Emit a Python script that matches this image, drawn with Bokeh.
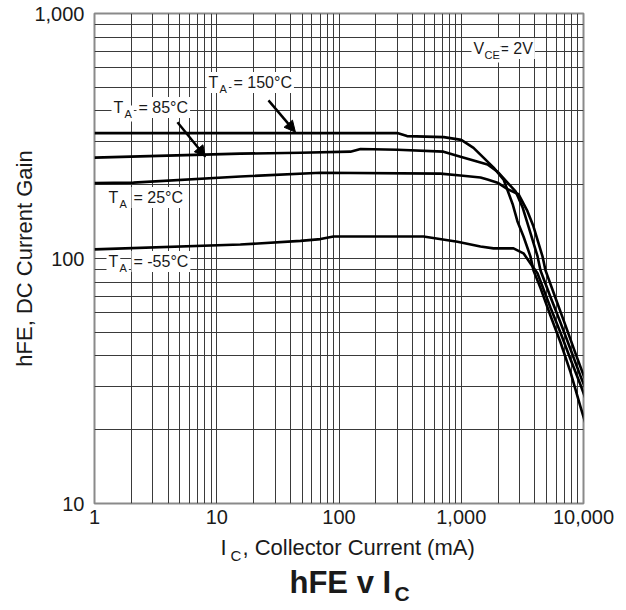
from bokeh.plotting import figure
from bokeh.layouts import column
from bokeh.models import FixedTicker, Label, Arrow, NormalHead
from bokeh.embed import file_html
from bokeh.resources import INLINE

# ---- data ----
ic_150 = [1, 300, 360, 720, 1000, 1260, 1520, 1840, 2220, 2630, 2880, 3230, 3680, 3900, 4450, 5370, 6490, 7830, 9450, 11000]
hfe_150 = [325, 325, 316, 313, 305, 283, 258, 235, 210, 167, 142, 123, 102, 89.4, 75.7, 58.4, 45.4, 34.4, 24.8, 19.3]

ic_85 = [1, 15.6, 48.4, 124, 150, 301, 716, 986, 1640, 1980, 2390, 2780, 3170, 3550, 4210, 4450, 5370, 6490, 7830, 9450, 11000]
hfe_85 = [258, 268, 270, 273, 280, 278, 273, 260, 242, 226, 204, 188, 162, 135, 102, 89.4, 69.6, 54.7, 42.6, 33.1, 27.3]

ic_25 = [1, 2.08, 15.6, 70.6, 676, 986, 1436, 1640, 1980, 2390, 2940, 3480, 3900, 4620, 4890, 5900, 7130, 8600, 11000]
hfe_25 = [203, 204, 216, 224, 222, 218, 214, 210, 204, 192, 183, 156, 135, 102, 89.4, 69.0, 53.2, 41.0, 29.4]

ic_m55 = [1, 15.6, 48.4, 70.6, 90.2, 491, 931, 1436, 1836, 2675, 3229, 3683, 4205, 5372, 6486, 7829, 9446, 10990]
hfe_m55 = [109, 114, 118, 120, 123, 123, 117, 112, 110, 110, 105, 95.5, 87.0, 62.9, 49.8, 38.8, 30.5, 24.8]

x_ticks = [1, 10, 100, 1000, 10000]
x_tick_labels = ["1", "10", "100", "1,000", "10,000"]
y_ticks = [10, 100, 1000]
y_tick_labels = ["10", "100", "1,000"]

FONT = "Liberation Sans"
INK = "#1a1a1a"
GRID = "#3a3a3a"

MAIN_H = 535
FRAME_L, FRAME_R = 94, 583
p = figure(width=626, height=MAIN_H, x_axis_type="log", y_axis_type="log",
           x_range=(1, 10000), y_range=(10, 1000),
           output_backend="svg", toolbar_location=None, title=None,
           min_border_left=FRAME_L, min_border_right=626 - FRAME_R, min_border_top=13,
           min_border_bottom=MAIN_H - 503)
p.background_fill_color = "white"
p.border_fill_color = "white"
p.outline_line_color = "#8a8a8a"
p.outline_line_width = 2

x_minor = [m * d for d in x_ticks[:-1] for m in range(2, 10)]
y_minor = [m * d for d in y_ticks[:-1] for m in range(2, 10)]
p.xaxis.ticker = FixedTicker(ticks=x_ticks, minor_ticks=x_minor)
p.yaxis.ticker = FixedTicker(ticks=y_ticks, minor_ticks=y_minor)
p.xaxis.major_label_overrides = dict(zip(x_ticks, x_tick_labels))
p.yaxis.major_label_overrides = dict(zip(y_ticks, y_tick_labels))

for ax in (p.xaxis, p.yaxis):
    ax.axis_line_color = None
    ax.major_tick_line_color = None
    ax.minor_tick_line_color = None
    ax.major_tick_out = 0
    ax.minor_tick_out = 0
    ax.major_tick_in = 0
    ax.minor_tick_in = 0
    ax.major_label_text_font = FONT
    ax.major_label_text_font_size = "20px"
    ax.major_label_text_color = INK
p.xaxis.major_label_standoff = 6
p.yaxis.major_label_standoff = 10

p.yaxis.axis_label = "hFE, DC Current Gain"
p.yaxis.axis_label_text_font = FONT
p.yaxis.axis_label_text_font_size = "22px"
p.yaxis.axis_label_text_font_style = "normal"
p.yaxis.axis_label_text_color = INK
p.yaxis.axis_label_standoff = -6

for g in (p.xgrid, p.ygrid):
    g.grid_line_color = GRID
    g.grid_line_width = 1
    g.minor_grid_line_color = GRID
    g.minor_grid_line_width = 1

for xs, ys in ((ic_150, hfe_150), (ic_85, hfe_85), (ic_25, hfe_25), (ic_m55, hfe_m55)):
    p.line(xs, ys, line_color="black", line_width=2.6, line_join="round")


def lab(fig, text, x, y, size, bg=None, bold=False, units="screen"):
    fig.add_layout(Label(x=x, y=y, x_units=units, y_units=units, text=text,
                         text_font=FONT, text_font_size=f"{size}px", text_color=INK,
                         text_font_style="bold" if bold else "normal",
                         text_align="left", text_baseline="middle",
                         background_fill_color=bg, padding=2))


def temp_label(main, sub, rest, sx, sy):
    lab(p, main, sx, sy, 16, "white")
    lab(p, rest, sx + 25, sy, 16, "white")
    lab(p, sub, sx + 11, sy - 6, 11, "white")


temp_label("T", "A", "= 150°C", 112, 421)
temp_label("T", "A", "= 85°C", 17, 396)
temp_label("T", "A", "= 25°C", 12, 306)
temp_label("T", "A", "= -55°C", 12, 242)
lab(p, "V", 377, 455, 16, "white")
lab(p, "= 2V", 403, 455, 16, "white")
lab(p, "CE", 388, 449, 11, "white")

for xs_, ys_, xe_, ye_ in ((26.5, 442, 44, 328), (4.77, 360, 8.09, 260)):
    p.add_layout(Arrow(end=NormalHead(size=11, fill_color="black", line_color="black"),
                       x_start=xs_, y_start=ys_, x_end=xe_, y_end=ye_,
                       line_color="black", line_width=2.5))

# ---- strip below the chart: x-axis label and chart title (with subscripts) ----
# The column aligns this strip's frame with the chart's frame, so its x range
# is given in canvas pixels of that frame span.
BOT_H = 610 - MAIN_H
q = figure(width=626, height=BOT_H, x_range=(FRAME_L, FRAME_R), y_range=(0, BOT_H),
           output_backend="svg", toolbar_location=None, title=None,
           x_axis_location=None, y_axis_location=None,
           min_border_left=FRAME_L, min_border_right=626 - FRAME_R,
           min_border_top=0, min_border_bottom=0)
q.grid.visible = False
q.outline_line_color = None
q.background_fill_color = "white"
q.border_fill_color = "white"

# canvas y -> strip y: 610 - cy
lab(q, "I", 218, 610 - 547, 22, units="data")
lab(q, "C", 228, 610 - 555, 15, units="data")
lab(q, ", Collector Current (mA)", 240, 610 - 547, 22, units="data")
lab(q, "hFE v I", 287, 610 - 582, 31, bold=True, units="data")
lab(q, "C", 392, 610 - 593, 21, bold=True, units="data")

layout = column(p, q, spacing=0)
open("out.html", "w").write(file_html(layout, INLINE))
